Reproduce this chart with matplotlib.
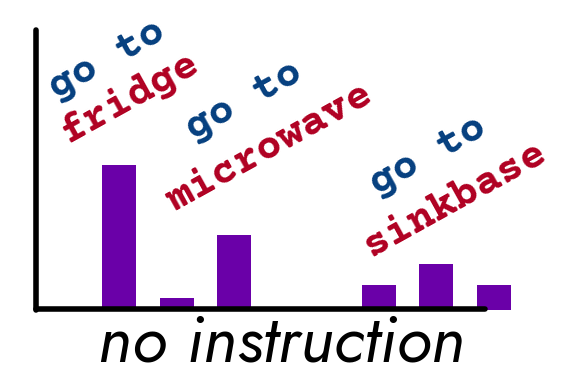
import matplotlib
matplotlib.use("Agg")
import matplotlib.pyplot as plt

# data
positions = [0, 1, 2, 4.5, 5.5, 6.5]
values = [12.0, 1.02, 6.2, 2.07, 3.81, 2.07]
labels_top = ["go to", "go to", "go to"]
labels_bottom = ["fridge", "microwave", "sinkbase"]
xlabel = "no instruction"

W, H = 564, 375
fig = plt.figure(figsize=(W / 100, H / 100), dpi=100)

def px(x, y):
    return (x / W, 1 - y / H)

l, b = px(35.5, 310)
r, t = px(485, 30)
ax = fig.add_axes([l, b, r - l, t - b])
ax.bar(positions, values, width=0.59, color="#6a00a8", clip_on=False, zorder=1)
ax.set_xlim(-1.447, 6.343)
ax.set_ylim(0, 23.2)
for s in ["top", "right"]:
    ax.spines[s].set_visible(False)
for s in ["left", "bottom"]:
    ax.spines[s].set_linewidth(4)
    ax.spines[s].set_capstyle("round")
    ax.spines[s].set_zorder(3)
ax.spines["bottom"].set_position(("data", 0.08))
ax.set_xticks([])
ax.set_yticks([])

blue = "#053f7f"
red = "#b00022"
mono = ["Courier Prime", "Liberation Mono", "DejaVu Sans Mono"]
ang = 29
fs = 30.6
top_xy = [(56, 99), (193, 140), (377, 195)]
bot_xy = [(68, 143), (174, 212), (371, 257)]
for txt, (x, y) in zip(labels_top, top_xy):
    fig.text(*px(x, y), txt, color=blue, fontsize=fs, fontweight="bold", family=mono,
             rotation=ang, rotation_mode="anchor", ha="left", va="baseline")
for txt, (x, y) in zip(labels_bottom, bot_xy):
    fig.text(*px(x, y), txt, color=red, fontsize=fs, fontweight="bold", family=mono,
             rotation=ang, rotation_mode="anchor", ha="left", va="baseline")

fig.text(*px(281.5, 361), xlabel, fontsize=47.5, style="italic", fontweight="semibold",
         family=["Jost", "League Spartan", "Lato", "DejaVu Sans"],
         ha="center", va="baseline", color="black")

fig.savefig("out.png", dpi=100)
